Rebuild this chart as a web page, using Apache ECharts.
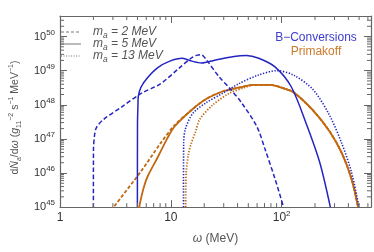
<!DOCTYPE html>
<html><head><meta charset="utf-8">
<script src="https://cdn.jsdelivr.net/npm/echarts@6/dist/echarts.min.js"></script>
<style>html,body{margin:0;padding:0;background:#fff}#c{width:374px;height:252px}</style>
</head><body><div id="c"></div>
<script>
// ---------- data ----------
const xTickValues = [1, 10, 100];
const xTickLabels = ['1', '10', '10{sup|2}'];
const yTickExponents = [45, 46, 47, 48, 49, 50];
const minorMultipliers = [2, 3, 4, 5, 6, 7, 8, 9];
const xDecades = [1, 10, 100];
const yDecades = [1e45, 1e46, 1e47, 1e48, 1e49, 1e50];

const legendLabels = ['m{sub|a} = 2 MeV', 'm{sub|a} = 5 MeV', 'm{sub|a} = 13 MeV'];
const seriesNames = ['B\u2212Conversions', 'Primakoff'];

// B-conversions, m_a = 2, 5, 13 MeV  [omega (MeV), dN/domega]
const bconv_ma2 = [[2.0,1e45],[2.003,4.6e46],[2.05,1.3e47],[2.13,2.15e47],[2.44,3.6e47],[3.63,8.8e47],[5.4,2.15e48],[8.04,4.1e48],[11.96,1.21e49],[15.6,2.45e49],[17.4,2.85e49],[18.6,2.95e49],[19.7,2.65e49],[21.0,2.05e49],[27.5,6.4e48],[34.2,2.97e48],[43.5,1.14e48],[59.7,2.3e47],[71.4,4.6e46],[87,6.8e45],[104,1e45]];
const bconv_ma5 = [[4.99,1e45],[5.0,2.6e47],[5.05,1.0e48],[5.09,1.78e48],[5.4,3.37e48],[6.21,6.4e48],[7.57,1.21e49],[9.8,1.9e49],[12.7,2.3e49],[15.5,1.9e49],[18.9,1.67e49],[24.9,2.02e49],[37.1,2.6e49],[48,2.78e49],[62.1,2.3e49],[87,1.29e49],[122,3.37e48],[168,2.6e47],[221,2.0e46],[275,1e45]];
const bconv_ma13 = [[13.0,1e45],[13.05,7.3e46],[13.5,1.9e47],[15.8,5.6e47],[20.8,1.14e48],[29.2,2.15e48],[40.9,4.1e48],[60.9,7.3e48],[90.5,1e49],[129,7.3e48],[192,2.78e48],[270,4.95e47],[349,7.3e46],[426,1.07e46],[499,1e45]];

// Primakoff
const prim_ma2_head = [[2.9,7.9e44],[3.05,1e45],[5.4,1.14e46],[8.04,7.3e46],[10.8,2.5e47]];
const prim_ma5_head = [[5.1,5e44],[5.19,1e45],[5.4,1.9e45],[5.74,4.1e45],[6.21,8.3e45],[7.57,2.8e46],[9.24,1e47],[10.8,2.3e47]];
const prim_ma13_head = [[13.6,1e45],[13.75,1e46],[14.4,3.5e46],[15.2,7e46],[16.7,1.6e47],[18.1,3.6e47],[23.5,9.4e47],[33.5,2.15e48],[46.1,3.2e48]];
const prim_tail = [[15.2,6.8e47],[20.8,1.47e48],[29.2,2.45e48],[40.9,3.16e48],[56.2,3.83e48],[78.8,3.83e48],[106,2.97e48],[129,2.3e48],[192,6.8e47],[270,1.67e47],[349,3.83e46],[426,6.8e45],[490,1e45]];
const prim_ma2 = prim_ma2_head.concat(prim_tail);
const prim_ma5 = prim_ma5_head.concat(prim_tail);
const prim_ma13 = prim_ma13_head.concat(prim_tail.filter(p => p[0] > 50));

// ---------- styling ----------
const FONT = "'Liberation Sans', Arial, sans-serif";
const BLUE = '#2424c2';
const ORANGE = '#c2680f';
const AXIS = '#666';
const DASH = [4.5, 2.5];
const DOT = [1.3, 1.6];

const xMinor = [];
xDecades.forEach(d => minorMultipliers.forEach(m => { if (d * m < 640) xMinor.push(d * m); }));
const yMinor = [];
yDecades.forEach(d => minorMultipliers.forEach(m => { if (d * m < 4e50) yMinor.push(d * m); }));

const richName = {
  it: {fontStyle: 'italic', fontFamily: FONT, fontSize: 10.5, lineHeight: 15},
  sub: {fontFamily: FONT, fontSize: 7, lineHeight: 8, verticalAlign: 'bottom'},
  sup: {fontFamily: FONT, fontSize: 7, lineHeight: 7, verticalAlign: 'top'}
};
const richLegend = {
  sub: {fontFamily: FONT, fontStyle: 'italic', fontSize: 8.5, lineHeight: 8, verticalAlign: 'bottom'}
};

function minorTickSeries(vals, isX) {
  return {
    type: 'custom', silent: true, z: 5, clip: false,
    data: vals.map(v => isX ? [v, 1e47] : [10, v]),
    encode: {x: 0, y: 1},
    renderItem: (params, api) => {
      const cs = params.coordSys;
      const p = api.coord([api.value(0), api.value(1)]);
      const L = 4, st = {stroke: AXIS, lineWidth: 1};
      if (isX) {
        return {type: 'group', children: [
          {type: 'line', shape: {x1: p[0], y1: cs.y + cs.height, x2: p[0], y2: cs.y + cs.height - L}, style: st},
          {type: 'line', shape: {x1: p[0], y1: cs.y, x2: p[0], y2: cs.y + L}, style: st}
        ]};
      }
      return {type: 'group', children: [
        {type: 'line', shape: {x1: cs.x, y1: p[1], x2: cs.x + L, y2: p[1]}, style: st},
        {type: 'line', shape: {x1: cs.x + cs.width, y1: p[1], x2: cs.x + cs.width - L, y2: p[1]}, style: st}
      ]};
    }
  };
}

function lineSeries(data, color, type, width) {
  return {type: 'line', data: data, symbol: 'none', showSymbol: false, smooth: 0.3,
    lineStyle: {color: color, width: width, type: type}, z: 3};
}

const axisCommon = {
  type: 'log', logBase: 10,
  axisLine: {show: true, lineStyle: {color: AXIS, width: 1.2}},
  axisTick: {show: true, inside: true, length: 7, lineStyle: {color: AXIS, width: 1}},
  splitLine: {show: false}, minorTick: {show: false}
};

const chart = echarts.init(document.getElementById('c'), null, {renderer: 'canvas'});
const option = {
  animation: false,
  grid: {left: 45, right: 3, top: 16, bottom: 35},
  xAxis: [
    Object.assign({}, axisCommon, {
      position: 'bottom', min: 1, max: 640,
      axisLabel: {
        color: '#333', fontFamily: FONT, fontSize: 12, lineHeight: 16, margin: 3,
        formatter: v => {
          const i = xTickValues.findIndex(t => Math.abs(Math.log10(t) - Math.log10(v)) < 1e-6);
          return i >= 0 ? xTickLabels[i] : '';
        },
        rich: {sup: {fontFamily: FONT, fontSize: 8, lineHeight: 6, verticalAlign: 'top', color: '#333'}}
      },
      name: '{it|\u03c9} (MeV)', nameLocation: 'middle', nameGap: 21,
      nameTextStyle: {color: '#555', fontFamily: FONT, fontSize: 12, lineHeight: 16,
        rich: {it: {fontStyle: 'italic', fontFamily: FONT, fontSize: 12, lineHeight: 16}}}
    }),
    Object.assign({}, axisCommon, {position: 'top', min: 1, max: 640, axisLabel: {show: false}})
  ],
  yAxis: [
    Object.assign({}, axisCommon, {
      position: 'left', min: 1e45, max: 4e50,
      axisLabel: {
        color: '#333', fontFamily: FONT, fontSize: 11, lineHeight: 16, margin: 5,
        formatter: v => {
          const e = Math.round(Math.log10(v));
          return yTickExponents.indexOf(e) >= 0 ? '10{sup|' + e + '}' : '';
        },
        rich: {sup: {fontFamily: FONT, fontSize: 8, lineHeight: 6, verticalAlign: 'top', color: '#333'}}
      },
      name: 'd{it|\u1e44}{sub|a}/d{it|\u03c9} ({it|g}{sub|11}{sup|\u22122} s{sup|\u22121} MeV{sup|\u22121})',
      nameLocation: 'middle', nameGap: 29,
      nameTextStyle: {color: '#555', fontFamily: FONT, fontSize: 10.5, lineHeight: 15, rich: richName, padding: [0, 12, 0, 0]}
    }),
    Object.assign({}, axisCommon, {position: 'right', min: 1e45, max: 4e50, axisLabel: {show: false}})
  ],
  graphic: [
    {type: 'line', shape: {x1: 61, y1: 32, x2: 81, y2: 32}, style: {stroke: '#777', lineWidth: 1, lineDash: [3, 2]}},
    {type: 'line', shape: {x1: 61, y1: 44, x2: 81, y2: 44}, style: {stroke: '#777', lineWidth: 1}},
    {type: 'line', shape: {x1: 61, y1: 56, x2: 81, y2: 56}, style: {stroke: '#777', lineWidth: 1, lineDash: [1, 1.5]}},
    {type: 'text', x: 93, y: 32, style: {text: legendLabels[0], rich: richLegend, fill: '#555', font: 'italic 12px ' + FONT, verticalAlign: 'middle', lineHeight: 16}},
    {type: 'text', x: 93, y: 44, style: {text: legendLabels[1], rich: richLegend, fill: '#555', font: 'italic 12px ' + FONT, verticalAlign: 'middle', lineHeight: 16}},
    {type: 'text', x: 93, y: 56, style: {text: legendLabels[2], rich: richLegend, fill: '#555', font: 'italic 12px ' + FONT, verticalAlign: 'middle', lineHeight: 16}},
    {type: 'text', x: 316, y: 38, style: {text: seriesNames[0], fill: '#3c3cd2', font: '12px ' + FONT, align: 'center', verticalAlign: 'middle'}},
    {type: 'text', x: 316, y: 52, style: {text: seriesNames[1], fill: '#cc7a2c', font: '12px ' + FONT, align: 'center', verticalAlign: 'middle'}}
  ],
  series: [
    minorTickSeries(xMinor, true),
    minorTickSeries(yMinor, false),
    lineSeries(prim_ma5, ORANGE, 'solid', 1.8),
    lineSeries(prim_ma2, ORANGE, [3.5, 2], 1.8),
    lineSeries(prim_ma13, ORANGE, DOT, 1.8),
    lineSeries(bconv_ma2, BLUE, DASH, 1.5),
    lineSeries(bconv_ma5, BLUE, 'solid', 1.5),
    lineSeries(bconv_ma13, BLUE, DOT, 1.6)
  ]
};
chart.setOption(option);
</script></body></html>
